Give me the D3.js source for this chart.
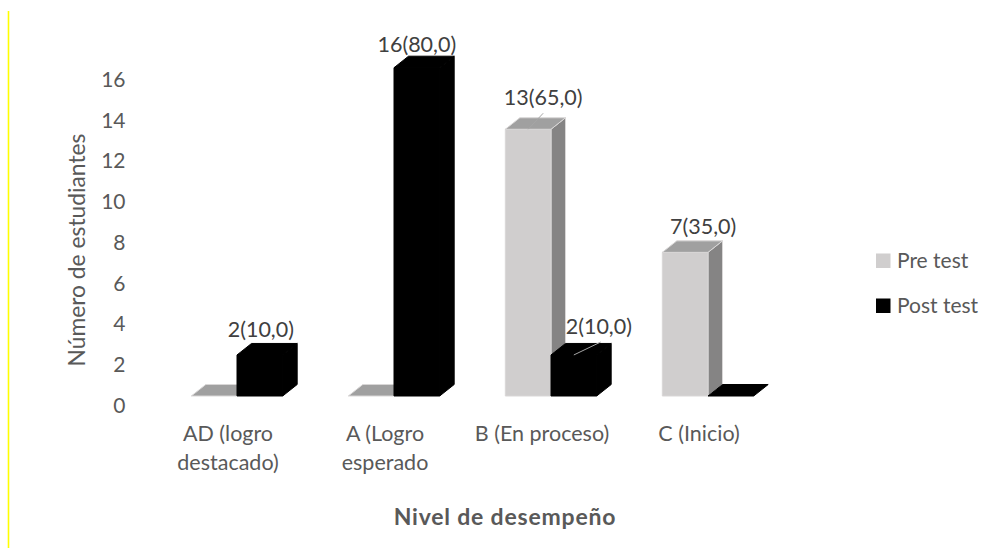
<!DOCTYPE html>
<html>
<head>
<meta charset="utf-8">
<script src="https://cdn.jsdelivr.net/npm/d3@7"></script>
<style>
  html, body { margin: 0; padding: 0; background: #fff; }
  svg { display: block; }
  text { font-family: Lato, "Open Sans", sans-serif; }
</style>
</head>
<body>
<svg id="chart"></svg>
<script>
// data
const categories = ["AD (logro destacado)", "A (Logro esperado", "B (En proceso)", "C (Inicio)"];
const seriesNames = ["Pre test", "Post test"];
const preTest = [0, 0, 13, 7];
const postTest = [2, 16, 2, 0];
const prePercent = ["0,0", "0,0", "65,0", "35,0"];
const postPercent = ["10,0", "80,0", "10,0", "0,0"];
const yTicks = [0, 2, 4, 6, 8, 10, 12, 14, 16];

const width = 995, height = 548;
const depthX = 14.5, depthY = 11.5;

const colors = {
  "Pre test": { front: "#d0cece", side: "#858484", top: "#a0a0a0", edge: "#d9d7d7" },
  "Post test": { front: "#000", side: "#000", top: "#000", edge: "#000" }
};

const svg = d3.select("#chart").attr("width", width).attr("height", height);

svg.append("line")
  .attr("x1", 8.5).attr("x2", 8.5).attr("y1", 11).attr("y2", 548)
  .attr("stroke", "#ffff00").attr("stroke-width", 1.6);

const x = d3.scaleBand().domain(categories).range([158.5, 786.5])
  .paddingInner(0.418).paddingOuter(0.209);
const xInner = d3.scaleBand().domain(seriesNames).range([0, x.bandwidth()]);
const y = d3.scaleLinear().domain([0, 16]).range([396, 67.7]);
// tick labels sit lower than the front of the bars, like in the 3d original
const yAxisScale = d3.scaleLinear().domain([0, 16]).range([404.5, 79]);

// y axis
const yAxis = svg.append("g")
  .attr("transform", "translate(125.5,0)")
  .call(d3.axisLeft(yAxisScale).tickValues(yTicks).tickSize(0).tickPadding(0));
yAxis.select(".domain").remove();
yAxis.selectAll("text")
  .attr("fill", "#595959").style("font-size", "21px")
  .attr("text-anchor", "end").attr("dy", "0.36em");

svg.append("text")
  .attr("transform", "translate(85,250) rotate(-90)")
  .attr("text-anchor", "middle")
  .attr("fill", "#595959").style("font-size", "22.8px")
  .text("Número de estudiantes");

// x axis, labels wrapped by hand like the original
const xLabels = new Map([
  [categories[0], ["AD (logro", "destacado)"]],
  [categories[1], ["A (Logro", "esperado"]],
  [categories[2], ["B (En proceso)"]],
  [categories[3], ["C (Inicio)"]]
]);
const xAxis = svg.append("g")
  .attr("transform", "translate(-9,416)")
  .call(d3.axisBottom(x).tickSize(0).tickPadding(0));
xAxis.select(".domain").remove();
xAxis.selectAll("text")
  .attr("fill", "#595959").style("font-size", "21.5px")
  .attr("y", 0).attr("dy", 0)
  .each(function (d) {
    const t = d3.select(this).text(null);
    xLabels.get(d).forEach((line, i) => {
      t.append("tspan").attr("x", 0).attr("y", 25 + i * 29).text(line);
    });
  });

svg.append("text")
  .attr("x", 505).attr("y", 525)
  .attr("text-anchor", "middle")
  .attr("fill", "#595959").style("font-size", "23px").style("font-weight", "bold")
  .style("letter-spacing", "0.8px")
  .text("Nivel de desempeño");

// 3d bars
const rows = [];
categories.forEach((c, i) => {
  rows.push({ cat: c, series: seriesNames[0], value: preTest[i], pct: prePercent[i] });
  rows.push({ cat: c, series: seriesNames[1], value: postTest[i], pct: postPercent[i] });
});

const poly = (pts) => pts.map((p) => p.join(",")).join(" ");
const bars = svg.append("g").selectAll("g").data(rows).join("g");

bars.each(function (d) {
  const g = d3.select(this);
  const c = colors[d.series];
  const x0 = x(d.cat) + xInner(d.series);
  const x1 = x0 + xInner.bandwidth();
  const y0 = y(0), yt = y(d.value);
  const face = (pts, fill) => g.append("polygon")
    .attr("points", poly(pts)).attr("fill", fill)
    .attr("stroke", c.edge).attr("stroke-width", 1)
    .attr("stroke-linejoin", "round");
  if (d.value > 0) {
    face([[x1, y0], [x1 + depthX, y0 - depthY], [x1 + depthX, yt - depthY], [x1, yt]], c.side);
    face([[x0, y0], [x1, y0], [x1, yt], [x0, yt]], c.front);
  }
  face([[x0, yt], [x1, yt], [x1 + depthX, yt - depthY], [x0 + depthX, yt - depthY]], c.top);
});

// data labels, moved by hand the same way they were in the original
const labelMoves = [
  { cat: 0, series: "Post test", dx: 1, dy: -18, leader: false },
  { cat: 1, series: "Post test", dx: 0, dy: -16, leader: false },
  { cat: 2, series: "Pre test", dx: 15, dy: -24, leader: true },
  { cat: 2, series: "Post test", dx: 25, dy: -21, leader: true },
  { cat: 3, series: "Pre test", dx: 18, dy: -18.5, leader: false }
];

labelMoves.forEach((m) => {
  const d = rows.find((r) => r.cat === categories[m.cat] && r.series === m.series);
  const cx = x(d.cat) + xInner(d.series) + xInner.bandwidth() / 2;
  const top = y(d.value);
  if (m.leader) {
    svg.append("line")
      .attr("x1", cx).attr("y1", top)
      .attr("x2", cx + m.dx + (m.series === "Post test" ? 2 : 0)).attr("y2", top + m.dy + 8)
      .attr("stroke", "#a6a6a6").attr("stroke-width", 1);
  }
  svg.append("text")
    .attr("x", cx + m.dx).attr("y", top + m.dy)
    .attr("text-anchor", "middle")
    .attr("fill", "#404040").style("font-size", "21.5px")
    .text(`${d.value}(${d.pct})`);
});

// legend
const legendY = d3.scalePoint().domain(seriesNames).range([261, 306]);
const legend = svg.append("g").selectAll("g").data(seriesNames).join("g")
  .attr("transform", (d) => `translate(876,${legendY(d)})`);
legend.append("rect")
  .attr("x", 0).attr("y", -7.5).attr("width", 14.5).attr("height", 14.5)
  .attr("fill", (d) => colors[d].front);
legend.append("text")
  .attr("x", 21).attr("y", 7)
  .attr("fill", "#595959").style("font-size", "21px")
  .text((d) => d);
</script>
</body>
</html>
